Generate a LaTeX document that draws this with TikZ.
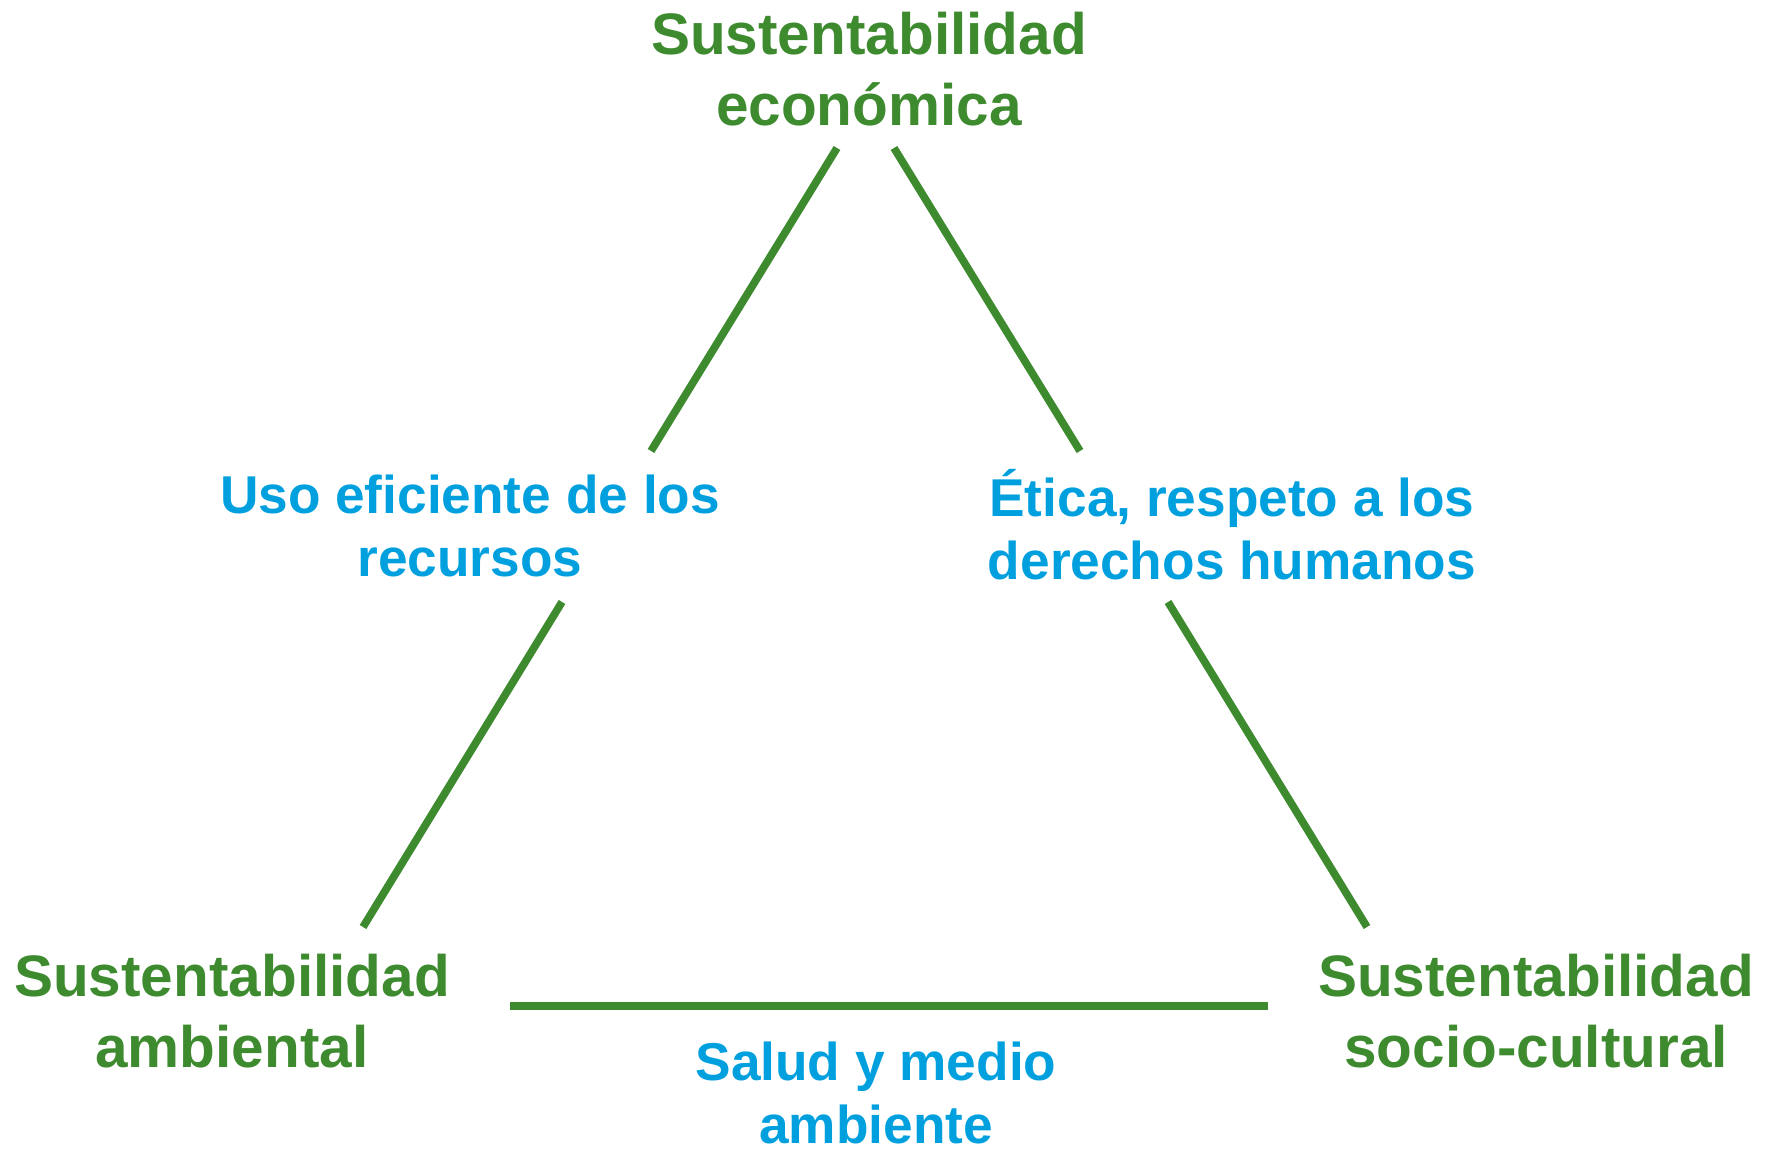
\documentclass[tikz,border=0pt]{standalone}
\usepackage{fontspec}
\setmainfont{Liberation Sans}
\usepackage{tikz}

\definecolor{verde}{RGB}{62,139,47}
\definecolor{azul}{RGB}{0,160,223}

\begin{document}
\begin{tikzpicture}[x=0.02cm, y=-0.02cm,
        pilar/.style={font=\fontsize{33.3}{40}\selectfont\bfseries, text=verde, align=center},
        valor/.style={font=\fontsize{30.3}{36}\selectfont\bfseries, text=azul, align=center},
        lado/.style={draw=verde, line width=4.4pt}]
            \useasboundingbox (0,0) rectangle (1769,1152);

            % pillars
            \node[pilar] (eco) at (869,69) {Sustentabilidad\\económica};
            \node[pilar] (amb) at (232,1011) {Sustentabilidad\\ambiental};
            \node[pilar] (soc) at (1536,1011) {Sustentabilidad\\socio-cultural};

            % values between them
            \node[valor] (uso) at (470,526) {Uso eficiente de los\\recursos};
            \node[valor] (etica) at (1232,525) {Ética, respeto a los\\derechos humanos};
            \node[valor] (salud) at (876,1093) {Salud y medio\\ambiente};

            % end points of the sides
            \coordinate (eco-l) at (837,148);
            \coordinate (eco-r) at (894,148);
            \coordinate (uso-t) at (651,451);
            \coordinate (uso-b) at (562,602);
            \coordinate (etica-t) at (1080,451);
            \coordinate (etica-b) at (1168,602);
            \coordinate (amb-t) at (363,927);
            \coordinate (amb-r) at (510,1006);
            \coordinate (soc-t) at (1367,927);
            \coordinate (soc-l) at (1268,1006);

            % sides
            \draw[lado] (eco-l) -- (uso-t);
            \draw[lado] (uso-b) -- (amb-t);
            \draw[lado] (eco-r) -- (etica-t);
            \draw[lado] (etica-b) -- (soc-t);
            \draw[lado] (amb-r) -- (soc-l);
        \end{tikzpicture}
\end{document}
